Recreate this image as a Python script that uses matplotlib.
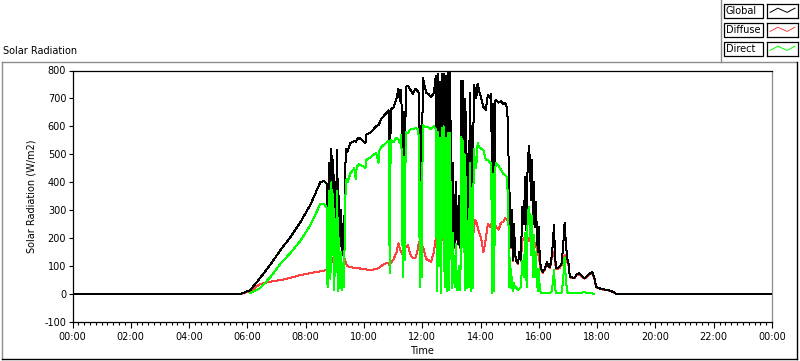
import matplotlib
matplotlib.use("Agg")
import matplotlib.pyplot as plt
from matplotlib.lines import Line2D
from matplotlib.patches import Rectangle
import numpy as np

plt.rcParams['font.family'] = ['DejaVu Sans']

nan = float("nan")

# ---- data (minutes since midnight, W/m2) ----
minutes = [0, 345, 366, 386, 407, 428, 449, 469, 490, 510, 518, 523, 525, 527, 529, 531, 533, 535, 537, 539,
           541, 543, 545, 547, 549, 551, 553, 555, 557, 559, 561, 563, 566, 572, 580, 583, 585, 590, 603, 605,
           614, 625, 630, 632, 635, 645, 651, 653, 655, 661, 667, 671, 674, 677, 680, 682, 684, 686, 690, 696,
           701, 706, 711, 713, 715, 717, 719, 721, 723, 728, 733, 738, 744, 748, 750, 752, 754, 756, 758, 760,
           762, 764, 766, 769, 771, 773, 775, 777, 779, 781, 783, 785, 787, 789, 791, 793, 795, 797, 799, 800,
           803, 805, 807, 809, 810, 812, 814, 816, 818, 820, 822, 824, 826, 829, 831, 834, 837, 841, 846, 851,
           855, 860, 862, 864, 866, 868, 870, 872, 877, 882, 887, 891, 894, 897, 899, 901, 903, 905, 907, 909,
           911, 913, 917, 920, 923, 926, 929, 932, 935, 937, 940, 942, 944, 946, 948, 950, 952, 954, 956, 958,
           960, 962, 965, 968, 971, 974, 977, 980, 983, 986, 989, 991, 993, 995, 998, 1001, 1004, 1007, 1010, 1013,
           1015, 1018, 1021, 1024, 1028, 1033, 1038, 1043, 1048, 1054, 1058, 1064, 1070, 1074, 1078, 1089, 1103, 1114, 1120, 1440]

global_rad = [0, 0, 14, 57, 105, 157, 205, 257, 320, 400, 405, 395, 132, 300, 470, 180, 520, 260, 480, 150,
              400, 230, 515, 140, 350, 170, 300, 140, 250, 160, 420, 520, 510, 540, 548, 545, 552, 560, 540, 570,
              579, 600, 605, 612, 625, 646, 657, 175, 660, 668, 700, 735, 690, 730, 204, 650, 289, 740, 746, 730,
              717, 735, 725, 720, 218, 600, 250, 775, 760, 720, 715, 705, 720, 782, 204, 789, 300, 760, 193, 789,
              400, 789, 250, 780, 193, 793, 168, 793, 500, 168, 470, 300, 168, 400, 250, 180, 350, 168, 300, 764,
              764, 400, 700, 200, 650, 170, 500, 250, 720, 130, 600, 200, 750, 728, 700, 753, 728, 703, 670, 660,
              714, 700, 717, 240, 680, 204, 690, 693, 685, 690, 680, 685, 668, 600, 218, 361, 168, 300, 121, 250,
              146, 121, 110, 150, 121, 311, 250, 420, 200, 480, 529, 450, 336, 480, 250, 400, 240, 330, 211, 150,
              240, 120, 90, 80, 86, 100, 114, 100, 96, 130, 180, 246, 160, 93, 93, 95, 100, 110, 170, 254,
              200, 130, 110, 61, 60, 57, 70, 75, 65, 57, 62, 72, 79, 60, 25, 18, 14, 7, 0, 0]

diffuse_rad = [0, 0, 10, 36, 44, 50, 58, 68, 75, 82, 84, 88, 120, 110, 100, 125, 110, 130, 115, 135,
               125, 150, 140, 140, 145, 150, 140, 140, 140, 135, 120, 110, 100, 96, 94, 94, 93, 92, 88, 88,
               86, 90, 92, 94, 100, 110, 110, 100, 110, 125, 150, 182, 160, 150, 140, 150, 160, 170, 175, 140,
               128, 130, 160, 186, 186, 180, 175, 170, 160, 125, 121, 115, 150, 200, 200, 210, 200, 205, 190, 200,
               205, 190, 210, 229, 190, 229, 165, 230, 220, 165, 240, 230, 165, 220, 240, 178, 230, 165, 200, 200,
               220, 240, 210, 195, 230, 168, 230, 240, 260, 128, 230, 195, 230, 264, 260, 240, 220, 200, 150, 200,
               250, 240, 250, 238, 260, 200, 250, 240, 230, 255, 260, 271, 268, 260, 215, 200, 165, 190, 118, 200,
               143, 118, 108, 146, 118, 193, 200, 200, 180, 200, 190, 200, 200, 200, 190, 190, 180, 175, 160, 140,
               150, 100, 85, 76, 84, 95, 110, 98, 92, 125, 140, 150, 130, 90, 90, 92, 96, 105, 125, 139,
               140, 120, 105, 60, 58, 56, 68, 72, 63, 55, 60, 70, 76, 58, 24, 17, 13, 6, 0, 0]

# direct component is not recorded at night (no line drawn)
direct_rad = [nan, nan, 3, 21, 60, 108, 148, 190, 248, 322, 322, 310, 25, 190, 370, 55, 400, 140, 360, 15,
              270, 80, 370, 12, 200, 20, 150, 15, 110, 25, 300, 410, 400, 432, 450, 410, 455, 465, 452, 480,
              490, 505, 470, 515, 525, 540, 548, 75, 550, 545, 560, 555, 540, 570, 60, 490, 120, 580, 575, 590,
              590, 595, 590, 560, 25, 400, 60, 604, 600, 598, 596, 590, 600, 590, 10, 580, 100, 560, 3, 595,
              200, 600, 25, 560, 10, 575, 14, 575, 280, 20, 220, 70, 25, 180, 15, 14, 100, 14, 100, 561,
              550, 150, 500, 14, 420, 20, 260, 25, 470, 10, 380, 20, 520, 470, 450, 540, 525, 521, 515, 480,
              480, 470, 465, 5, 430, 10, 450, 468, 460, 445, 430, 425, 420, 330, 25, 130, 20, 60, 10, 40,
              20, 25, 14, 20, 25, 120, 60, 220, 25, 290, 311, 250, 140, 280, 60, 210, 60, 150, 50, 10,
              90, 15, 5, 3, 2, 5, 3, 2, 3, 10, 40, 86, 30, 3, 2, 3, 2, 5, 50, 132,
              70, 10, 3, 2, 2, 2, 2, 3, 5, 8, 3, 2, 2, 1, nan, nan, nan, nan, nan, nan]

series_names = ["Global", "Diffuse", "Direct"]
series_colors = ["#000000", "#ff4040", "#00ff00"]
x_tick_hours = list(range(0, 25, 2))
x_tick_labels = ["00:00", "02:00", "04:00", "06:00", "08:00", "10:00", "12:00",
                 "14:00", "16:00", "18:00", "20:00", "22:00", "00:00"]
y_ticks = [-100, 0, 100, 200, 300, 400, 500, 600, 700, 800]

# ---- figure ----
W, H = 800, 361
fig = plt.figure(figsize=(W / 100, H / 100), dpi=100)
fig.patch.set_facecolor("white")

def fx(px):
    return px / W

def fy(py):
    return 1 - py / H

ax_l, ax_r, ax_t, ax_b = 72.5, 772, 70.5, 322
ax = fig.add_axes([fx(ax_l), fy(ax_b), fx(ax_r) - fx(ax_l), fy(ax_t) - fy(ax_b)])

hours = np.array(minutes) / 60.0
LW = 0.72
ax.plot(hours, diffuse_rad, color=series_colors[1], lw=LW, antialiased=False, zorder=2)
ax.plot(hours, global_rad, color=series_colors[0], lw=LW, antialiased=False, zorder=3)
ax.plot(hours, direct_rad, color=series_colors[2], lw=LW, antialiased=False, zorder=4)

ax.set_xlim(0, 24)
ax.set_ylim(-100, 800)
ax.set_xticks(x_tick_hours)
ax.set_xticklabels(x_tick_labels)
ax.set_xticks(np.arange(0, 24.01, 0.2), minor=True)
ax.set_yticks(y_ticks)
ax.set_yticklabels([str(v) for v in y_ticks])

ax.tick_params(axis="x", which="major", direction="out", length=4, width=0.8, labelsize=7, pad=3, colors="black")
ax.tick_params(axis="x", which="minor", direction="out", length=2.2, width=0.8)
ax.tick_params(axis="y", which="major", direction="out", length=3, width=0.8, labelsize=7, pad=1.5)

for side in ["left", "bottom", "top"]:
    ax.spines[side].set_color("black")
    ax.spines[side].set_linewidth(0.9)
ax.spines["right"].set_color("#8c8c8c")
ax.spines["right"].set_linewidth(0.9)

# labels
fig.text(fx(3), fy(51), "Solar Radiation", fontsize=7, ha="left", va="center")
fig.text(fx(31), fy(196), "Solar Radiation (W/m2)", fontsize=7, rotation=90, ha="center", va="center")
fig.text(fx(422), fy(351), "Time", fontsize=7, ha="center", va="center")

# outer frame
fig.add_artist(Line2D([fx(1.5), fx(1.5)], [fy(61.5), fy(359)], color="#8c8c8c", lw=1))
fig.add_artist(Line2D([fx(1.5), fx(797)], [fy(61.5), fy(61.5)], color="#8c8c8c", lw=1))
fig.add_artist(Line2D([fx(797), fx(797)], [fy(61.5), fy(359)], color="black", lw=1))
fig.add_artist(Line2D([fx(1.5), fx(797)], [fy(359), fy(359)], color="black", lw=1))

# legend panel
fig.add_artist(Line2D([fx(720.5), fx(720.5)], [fy(0), fy(61.5)], color="#8c8c8c", lw=1))
row_centers = [11, 30, 49]
for name, col, yc in zip(series_names, series_colors, row_centers):
    fig.add_artist(Rectangle((fx(724), fy(yc + 7)), fx(763) - fx(724), fy(yc - 7) - fy(yc + 7),
                             fill=False, edgecolor="black", lw=0.9))
    fig.text(fx(726), fy(yc), name, fontsize=7, ha="left", va="center")
    sax = fig.add_axes([fx(767), fy(yc + 7), fx(798) - fx(767), fy(yc - 7) - fy(yc + 7)])
    sax.set_xlim(0, 10)
    sax.set_ylim(0, 10)
    sax.set_xticks([])
    sax.set_yticks([])
    for s in sax.spines.values():
        s.set_color("black")
        s.set_linewidth(0.9)
    sax.plot([1, 3.5, 6.5, 9], [4, 7, 4, 7], color=col, lw=0.7)

fig.savefig("out.png", dpi=100, facecolor="white")
